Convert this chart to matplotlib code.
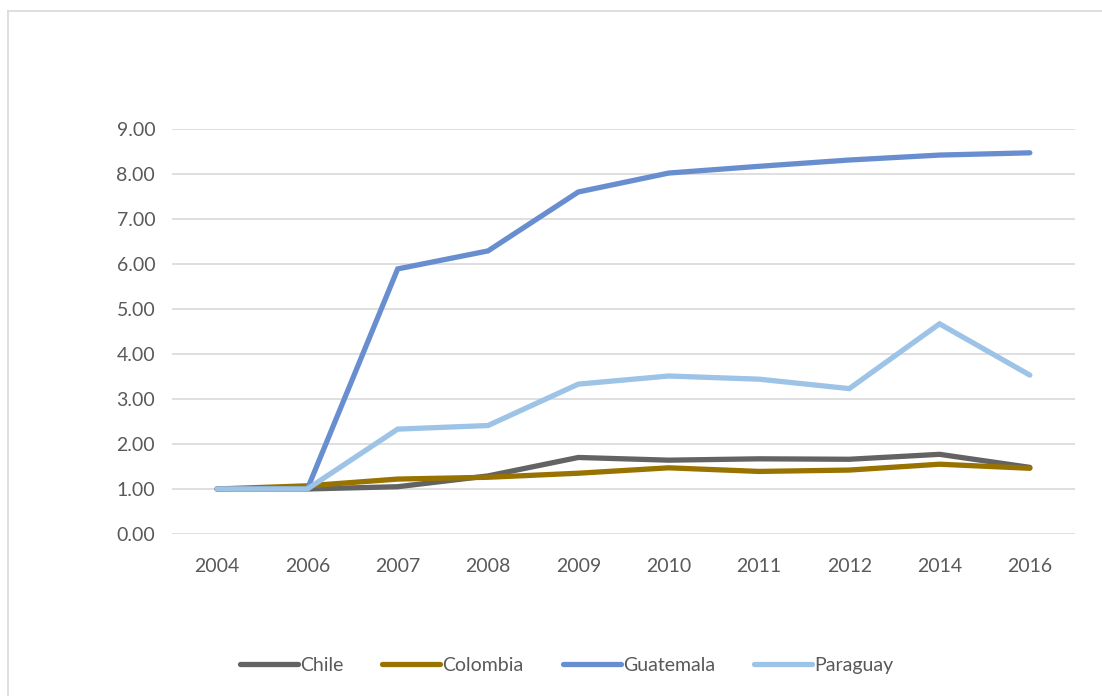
import matplotlib.pyplot as plt
from matplotlib.lines import Line2D

years = ['2004', '2006', '2007', '2008', '2009', '2010', '2011', '2012', '2014', '2016']
chile = [1.00, 1.00, 1.05, 1.29, 1.70, 1.64, 1.67, 1.66, 1.77, 1.48]
colombia = [1.00, 1.07, 1.22, 1.26, 1.35, 1.47, 1.39, 1.42, 1.55, 1.46]
guatemala = [1.00, 1.00, 5.89, 6.29, 7.60, 8.02, 8.17, 8.31, 8.42, 8.47]
paraguay = [1.00, 1.00, 2.33, 2.41, 3.33, 3.51, 3.44, 3.23, 4.67, 3.53]

plt.rcParams['font.family'] = ['Lato', 'DejaVu Sans']

fig = plt.figure(figsize=(11.02, 6.96), dpi=100)
ax = fig.add_axes([0.156, 0.2328, 0.8195, 0.5819])

x = range(len(years))
lw = 3.8
ax.plot(x, chile, color='#636363', lw=lw, solid_capstyle='round', solid_joinstyle='miter', label='Chile')
ax.plot(x, colombia, color='#997300', lw=lw, solid_capstyle='round', solid_joinstyle='miter', label='Colombia')
ax.plot(x, guatemala, color='#698ED0', lw=lw, solid_capstyle='round', solid_joinstyle='miter', label='Guatemala')
ax.plot(x, paraguay, color='#9DC3E6', lw=lw, solid_capstyle='round', solid_joinstyle='miter', label='Paraguay')

ax.set_xlim(-0.5, len(years) - 0.5)
ax.set_ylim(0, 9)
ax.set_yticks(range(10))
ax.set_yticklabels(['%.2f' % v for v in range(10)])
ax.set_xticks(list(x))
ax.set_xticklabels(years)
ax.tick_params(length=0, labelsize=14, colors='#595959', pad=12)
ax.tick_params(axis='x', pad=17)
ax.grid(axis='y', color='#D9D9D9', lw=1.2)
ax.set_axisbelow(True)
for s in ax.spines.values():
    s.set_visible(False)

fig.legend(loc='center', bbox_to_anchor=(0.514, 0.044), ncol=4, frameon=False,
           fontsize=14, labelcolor='#595959', handlelength=3.0, handletextpad=0.1,
           columnspacing=2.0)

# chart border
fig.add_artist(Line2D([0.0073, 0.0073], [0, 0.984], color='#D9D9D9', lw=1.2))
fig.add_artist(Line2D([0.0073, 1.0], [0.984, 0.984], color='#D9D9D9', lw=1.2))

fig.savefig('out.png', dpi=100)
